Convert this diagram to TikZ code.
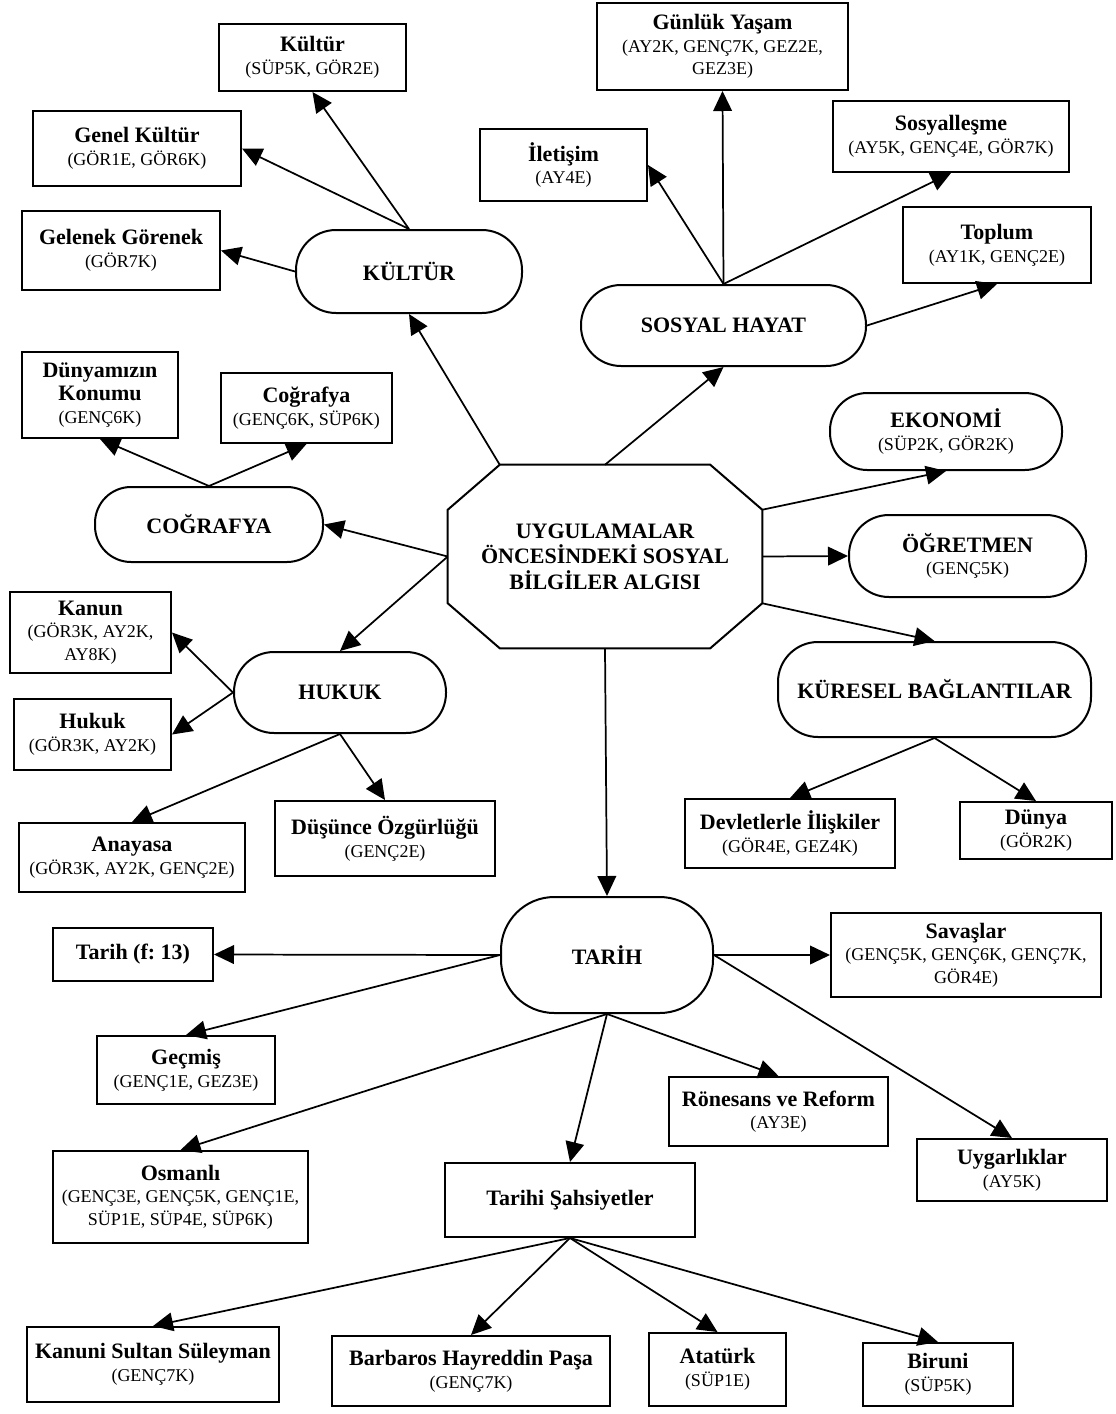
\documentclass[tikz,border=0pt]{standalone}
\usepackage{fontspec}
\setmainfont{Liberation Serif}
\usetikzlibrary{arrows.meta,calc}
\newcommand{\hdr}[1]{{\fontsize{16.5}{19}\selectfont\bfseries #1}}
\frenchspacing
\begin{document}
\begin{tikzpicture}[x=0.75pt,y=-0.75pt,
  bx/.style n args={4}{at={({(#1+#3)/2},{(#2+#4)/2})}, minimum width={(#3-#1)*0.75pt}, minimum height={(#4-#2)*0.75pt}},
  box/.style={draw, line width=1.5pt, inner sep=0pt, align=center, font=\fontsize{13.5}{17}\selectfont},
  arr/.style={line width=1.3pt, -{Triangle[length=15pt,width=14pt]}}]
\fill[white] (0,0) rectangle (1115,1414);
\useasboundingbox (0,0) rectangle (1115,1414);

% central octagon
\node[inner sep=0pt, align=center, font=\fontsize{16.5}{19}\selectfont\bfseries, bx={448}{465}{762}{648}] (C) {UYGULAMALAR\\ÖNCESİNDEKİ SOSYAL\\BİLGİLER ALGISI};
\coordinate (Ctl) at ($(C.north west)+(52,0)$);
\coordinate (Ctr) at ($(C.north east)+(-52,0)$);
\coordinate (Cru) at ($(C.north east)+(0,45)$);
\coordinate (Crl) at ($(C.south east)+(0,-45)$);
\coordinate (Cbr) at ($(C.south east)+(-52,0)$);
\coordinate (Cbl) at ($(C.south west)+(52,0)$);
\coordinate (Cll) at ($(C.south west)+(0,-45)$);
\coordinate (Clu) at ($(C.north west)+(0,45)$);
\draw[line width=1.5pt] (Ctl) -- (Ctr) -- (Cru) -- (Crl) -- (Cbr) -- (Cbl) -- (Cll) -- (Clu) -- cycle;

% Kultur group
\node[box, bx={219}{24}{406}{91}] (kultur) {\hdr{Kültür}\\(SÜP5K, GÖR2E)};
\node[box, bx={33}{111}{241}{186}] (genel) {\hdr{Genel Kültür}\\(GÖR1E, GÖR6K)};
\node[box, bx={22}{211}{220}{290}] (gelenek) {\hdr{Gelenek Görenek}\\(GÖR7K)};
\node[box, rounded corners=30pt, bx={296}{230}{522}{313}] (KS) {\hdr{KÜLTÜR}};

% Cografya group
\node[box, bx={22}{352}{178}{438}] (dunyamiz) {\hdr{Dünyamızın}\\\hdr{Konumu}\\(GENÇ6K)};
\node[box, bx={221}{373}{392}{443}] (cografya) {\hdr{Coğrafya}\\(GENÇ6K, SÜP6K)};
\node[box, rounded corners=27pt, bx={95}{487}{323}{562}] (CS) {\hdr{COĞRAFYA}};

% Hukuk group
\node[box, bx={10}{592}{171}{673}] (kanun) {\hdr{Kanun}\\(GÖR3K, AY2K,\\AY8K)};
\node[box, rounded corners=30pt, bx={234}{652}{446}{733}] (HS) {\hdr{HUKUK}};
\node[box, bx={14}{699}{171}{770}] (hukuk) {\hdr{Hukuk}\\(GÖR3K, AY2K)};
\node[box, bx={19}{823}{245}{892}] (anayasa) {\hdr{Anayasa}\\(GÖR3K, AY2K, GENÇ2E)};
\node[box, bx={275}{801}{495}{876}] (dusunce) {\hdr{Düşünce Özgürlüğü}\\(GENÇ2E)};

% Sosyal hayat group
\node[box, bx={597}{3}{848}{90}] (gunluk) {\hdr{Günlük Yaşam}\\(AY2K, GENÇ7K, GEZ2E,\\GEZ3E)};
\node[box, bx={480}{129}{647}{201}] (iletisim) {\hdr{İletişim}\\(AY4E)};
\node[box, bx={833}{101}{1069}{172}] (sosyal) {\hdr{Sosyalleşme}\\(AY5K, GENÇ4E, GÖR7K)};
\node[box, bx={903}{207}{1091}{283}] (toplum) {\hdr{Toplum}\\(AY1K, GENÇ2E)};
\node[box, rounded corners=30pt, bx={581}{285}{866}{366}] (SH) {\hdr{SOSYAL HAYAT}};

% right side
\node[box, rounded corners=28pt, bx={830}{393}{1062}{470}] (EK) {\hdr{EKONOMİ}\\(SÜP2K, GÖR2K)};
\node[box, rounded corners=30pt, bx={849}{515}{1086}{597}] (OG) {\hdr{ÖĞRETMEN}\\(GENÇ5K)};
\node[box, rounded corners=30pt, bx={778}{642}{1091}{737}] (KB) {\hdr{KÜRESEL BAĞLANTILAR}};
\node[box, bx={685}{799}{895}{868}] (devlet) {\hdr{Devletlerle İlişkiler}\\(GÖR4E, GEZ4K)};
\node[box, bx={960}{802}{1112}{859}] (dunya) {\hdr{Dünya}\\(GÖR2K)};

% Tarih group
\node[box, rounded corners=40pt, bx={501}{897}{713}{1013}] (TA) {\hdr{TARİH}};
\node[box, bx={53}{928}{213}{981}] (tarihf) {\hdr{Tarih (f: 13)}};
\node[box, bx={831}{913}{1101}{997}] (savas) {\hdr{Savaşlar}\\(GENÇ5K, GENÇ6K, GENÇ7K,\\GÖR4E)};
\node[box, bx={97}{1036}{275}{1104}] (gecmis) {\hdr{Geçmiş}\\(GENÇ1E, GEZ3E)};
\node[box, bx={669}{1077}{888}{1146}] (ronesans) {\hdr{Rönesans ve Reform}\\(AY3E)};
\node[box, bx={917}{1139}{1107}{1201}] (uygar) {\hdr{Uygarlıklar}\\(AY5K)};
\node[box, bx={53}{1151}{308}{1243}] (osmanli) {\hdr{Osmanlı}\\(GENÇ3E, GENÇ5K, GENÇ1E,\\SÜP1E, SÜP4E, SÜP6K)};
\node[box, bx={445}{1163}{695}{1237}] (TS) {\hdr{Tarihi Şahsiyetler}};
\node[box, bx={27}{1327}{279}{1402}] (kanuni) {\hdr{Kanuni Sultan Süleyman}\\(GENÇ7K)};
\node[box, bx={332}{1336}{610}{1406}] (barbaros) {\hdr{Barbaros Hayreddin Paşa}\\(GENÇ7K)};
\node[box, bx={649}{1333}{786}{1406}] (ataturk) {\hdr{Atatürk}\\(SÜP1E)};
\node[box, bx={863}{1343}{1013}{1406}] (biruni) {\hdr{Biruni}\\(SÜP5K)};

% connectors from centre
\draw[arr] (Ctl) -- (KS.south);
\draw[arr] (C.north) -- (SH.south);
\draw[arr] (C.west) -- (CS.east);
\draw[arr] (C.west) -- (HS.north);
\draw[arr] (Cru) -- (EK.south);
\draw[arr] (C.east) -- (OG.west);
\draw[arr] (Crl) -- (KB.north);
\draw[arr] (C.south) -- (TA.north);

% Kultur
\draw[arr] (KS.north) -- (kultur.south);
\draw[arr] (KS.north) -- (genel.east);
\draw[arr] (KS.west) -- (gelenek.east);
% Cografya
\draw[arr] (CS.north) -- (dunyamiz.south);
\draw[arr] (CS.north) -- (cografya.south);
% Hukuk
\draw[arr] (HS.west) -- (kanun.east);
\draw[arr] (HS.west) -- (hukuk.east);
\draw[arr] (HS.south) -- (anayasa.north);
\draw[arr] (HS.south) -- (dusunce.north);
% Sosyal hayat
\draw[arr] (SH.north) -- (gunluk.south);
\draw[arr] (SH.north) -- (iletisim.east);
\draw[arr] (SH.north) -- (sosyal.south);
\draw[arr] (SH.east) -- (toplum.south);
% Kuresel
\draw[arr] (KB.south) -- (devlet.north);
\draw[arr] (KB.south) -- (dunya.north);
% Tarih
\draw[arr] (TA.west) -- (tarihf.east);
\draw[arr] (TA.east) -- (savas.west);
\draw[arr] (TA.west) -- (gecmis.north);
\draw[arr] (TA.south) -- (osmanli.north);
\draw[arr] (TA.south) -- (TS.north);
\draw[arr] (TA.south) -- (ronesans.north);
\draw[arr] (TA.east) -- (uygar.north);
% Tarihi sahsiyetler
\draw[arr] (TS.south) -- (kanuni.north);
\draw[arr] (TS.south) -- (barbaros.north);
\draw[arr] (TS.south) -- (ataturk.north);
\draw[arr] (TS.south) -- (biruni.north);
\end{tikzpicture}
\end{document}
